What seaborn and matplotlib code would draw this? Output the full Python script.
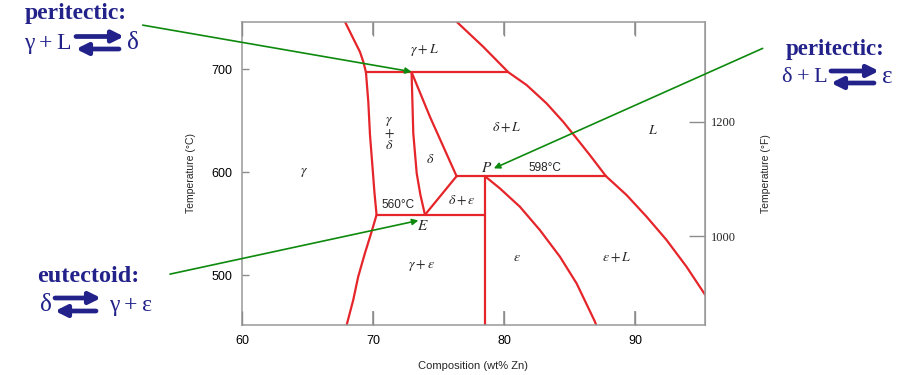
import numpy as np
import pandas as pd
import matplotlib
matplotlib.use('Agg')
import matplotlib.pyplot as plt
import seaborn as sns

# phase boundaries (wt% Zn, deg C)
gamma_top_x = [67.85, 68.48, 68.99, 69.25, 69.45]
gamma_top_t = [746, 729.8, 716.8, 707.1, 697]
gamma_low_x = [70.26, 69.88, 69.37, 68.86, 68.48, 67.98]
gamma_low_t = [558.5, 542.0, 521.1, 498.4, 475.7, 451.5]
gd_x = [69.45, 69.63, 69.76, 69.95, 70.1, 70.26]
gd_t = [697, 668.3, 635.9, 605, 580, 558.5]
liq_x = [76.36, 78.39, 80.3, 81.7, 83.22, 84.49, 85.51, 86.52, 87.75,
         89.32, 90.85, 92.37, 93.89, 95.3]
liq_t = [746, 721.7, 697, 684.5, 666.7, 648.8, 632.7, 616.5, 596,
         577.7, 556.6, 534.0, 508.1, 481]
dl_x = [72.93, 73.0, 73.06, 73.32, 73.6, 73.95]
dl_t = [697, 665, 637.6, 598.8, 578, 558.5]
dr_x = [72.93, 74.33, 76.36]
dr_t = [697, 653.7, 596]
de_x = [76.36, 73.95]
de_t = [596, 558.5]
eps_x = [78.52, 79.66, 81.19, 82.71, 84.24, 85.51, 86.9, 87.0]
eps_t = [596, 584.2, 566.3, 543.7, 517.8, 491.9, 455, 451.5]
epsv_x = [78.52, 78.52]
epsv_t = [596, 451.5]
peri1_x = [69.45, 80.3]
peri1_t = [697, 697]
peri2_x = [76.36, 87.75]
peri2_t = [596, 596]
eut_x = [70.26, 78.52]
eut_t = [558.5, 558.5]

curves = [(gamma_top_x, gamma_top_t), (gamma_low_x, gamma_low_t), (gd_x, gd_t),
          (liq_x, liq_t), (dl_x, dl_t), (dr_x, dr_t), (de_x, de_t),
          (eps_x, eps_t), (epsv_x, epsv_t), (peri1_x, peri1_t),
          (peri2_x, peri2_t), (eut_x, eut_t)]

x_ticks = [60, 70, 80, 90]
t_ticks = [500, 600, 700]
f_ticks = [1000, 1200]

# region labels
region_labels = [r'$\gamma + L$', '$\\gamma$\n$+$\n$\\delta$', r'$\delta$', r'$\delta + L$', r'$L$',
                 r'$\gamma$', r'$\delta + \epsilon$', r'$\epsilon$', r'$\gamma + \epsilon$',
                 r'$\epsilon + L$']
region_x = [73.95, 71.23, 74.33, 80.17, 91.3, 64.7, 76.8, 80.94, 73.7, 88.56]
region_t = [719, 638, 613, 644, 640.8, 600.3, 572.8, 517.8, 509, 517.8]

red = '#e5252a'
navy = '#22228a'
green = '#0d8a0d'
grey = '#8c8c8c'

sns.set_style('ticks', {'axes.axisbelow': False})
plt.rcParams['mathtext.fontset'] = 'stix'
plt.rcParams['font.family'] = ['Liberation Sans', 'DejaVu Sans']

W, H = 909, 375
fig = plt.figure(figsize=(W / 100, H / 100), dpi=100)
ax = fig.add_axes([0.2662, 0.1333, 0.5094, 0.8088])

for xs, ts in curves:
    df = pd.DataFrame({'x': xs, 't': ts})
    sns.lineplot(data=df, x='x', y='t', sort=False, estimator=None,
                 color=red, lw=1.6, ax=ax)

ax.set_xlim(60, 95.3)
ax.set_ylim(451.5, 746)
ax.set_xticks(x_ticks)
ax.set_yticks(t_ticks)
ax.tick_params(axis='x', direction='in', length=10, width=1, bottom=True, top=True,
               color=grey, labelcolor='black', labelsize=9, pad=7)
ax.tick_params(axis='y', direction='in', length=5, width=1,
               color=grey, labelcolor='black', labelsize=9, pad=7)
# inner tick marks along the bottom and top edges
ax.vlines(x_ticks[1:], 0, 0.046, transform=ax.get_xaxis_transform(),
          colors=grey, lw=1.1, clip_on=False)
ax.vlines(x_ticks[1:], 0.957, 1, transform=ax.get_xaxis_transform(),
          colors=grey, lw=1.1, clip_on=False)
for s in ax.spines.values():
    s.set_color('#999999')
    s.set_linewidth(1.1)
ax.set_xlabel('Composition (wt% Zn)', fontsize=8, labelpad=10)
ax.set_ylabel('Temperature (°C)', fontsize=7.5)
ax.yaxis.set_label_coords(-0.1, 0.5)

sec = ax.secondary_yaxis('right', functions=(lambda c: c * 9 / 5 + 32,
                                              lambda f: (f - 32) * 5 / 9))
sec.set_yticks(f_ticks)
sec.yaxis.set_tick_params(direction='in', length=11.5, width=1, color=grey,
                          labelsize=9, pad=4)
for lab in sec.get_yticklabels():
    lab.set_family('Liberation Serif')
sec.spines['right'].set_color('#999999')
sec.set_ylabel('Temperature (°F)', fontsize=7.5, labelpad=18)

for lab, x, t in zip(region_labels, region_x, region_t):
    ax.text(x, t, lab, ha='center', va='center', fontsize=10, linespacing=0.8)

ax.text(78.65, 603.6, r'$P$', ha='center', va='center', fontsize=11)
ax.text(73.77, 547.6, r'$E$', ha='center', va='center', fontsize=11)
ax.text(83.1, 603.6, '598°C', ha='center', va='center', fontsize=8.5)
ax.text(71.9, 568, '560°C', ha='center', va='center', fontsize=8.5)

# green arrows from the notes to the invariant points
arrow = dict(arrowstyle='-|>', color=green, lw=1.2, mutation_scale=9,
             shrinkA=0, shrinkB=0)
ax.annotate('', xy=(72.93, 697.4), xytext=(0.157, 0.933),
            textcoords='figure fraction', arrowprops=arrow, annotation_clip=False)
ax.annotate('', xy=(79.2, 603.6), xytext=(0.839, 0.871),
            textcoords='figure fraction', arrowprops=arrow, annotation_clip=False)
ax.annotate('', xy=(73.45, 553), xytext=(0.187, 0.269),
            textcoords='figure fraction', arrowprops=arrow, annotation_clip=False)


def fx(px):
    return px / W


def fy(py):
    return 1 - py / H


def double_arrow(x0, x1, yt, yb):
    # right-pointing arrow on top, left-pointing one below
    st = dict(arrowstyle='-|>', color=navy, lw=3.4, mutation_scale=17,
              shrinkA=0, shrinkB=0)
    fig.add_artist(matplotlib.patches.FancyArrowPatch(
        (fx(x0), fy(yt)), (fx(x1), fy(yt)), transform=fig.transFigure, **st))
    fig.add_artist(matplotlib.patches.FancyArrowPatch(
        (fx(x1 - 5), fy(yb)), (fx(x0), fy(yb)), transform=fig.transFigure, **st))


# reaction notes
sp = '\u2009'
note = dict(color=navy, family=['Liberation Serif', 'DejaVu Sans'], va='center')
fig.text(fx(25), fy(14), 'peritectic:', fontsize=17, fontweight='bold', **note)
fig.text(fx(72), fy(43), 'γ' + sp + '+' + sp + 'L', fontsize=17, ha='right', **note)
double_arrow(76, 124, 36.5, 49)
fig.text(fx(127), fy(43), 'δ', fontsize=18, ha='left', **note)

fig.text(fx(786), fy(50), 'peritectic:', fontsize=16.5, fontweight='bold', **note)
fig.text(fx(828), fy(77), 'δ' + sp + '+' + sp + 'L', fontsize=16, ha='right', **note)
double_arrow(831, 879, 71, 83)
fig.text(fx(882), fy(77), 'ε', fontsize=18, ha='left', **note)

fig.text(fx(37), fy(276), 'eutectoid:', fontsize=17.5, fontweight='bold', **note)
fig.text(fx(52), fy(305), 'δ', fontsize=18, ha='right', **note)
double_arrow(55, 101, 298, 311)
fig.text(fx(109), fy(305), 'γ' + sp + '+' + sp + 'ε', fontsize=17, ha='left', **note)

fig.savefig('out.png', dpi=100)
